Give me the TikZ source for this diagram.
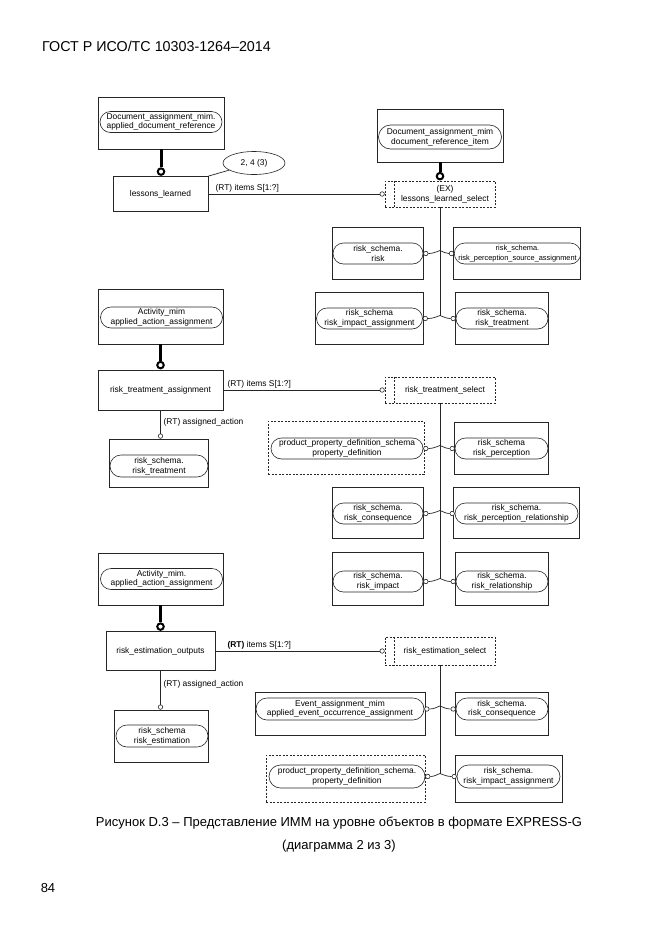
\documentclass[tikz,border=0pt]{standalone}
\usepackage{fontspec}
\setmainfont{Liberation Sans}
\usetikzlibrary{shapes.misc,shapes.geometric}

\begin{document}
\begin{tikzpicture}[x=1pt, y=-1pt]
    \tikzstyle{every node}=[align=center, inner sep=0pt, font=\fontsize{8.4}{9.6}\selectfont]
    \tikzstyle{entity}=[draw=black!85, line width=0.8pt]
    \tikzstyle{entitydash}=[draw=black!85, line width=0.7pt, dash pattern=on 2pt off 1.5pt]
    \tikzstyle{mimref}=[draw=black!85, rounded rectangle, line width=0.6pt, minimum height=21pt]
    \tikzstyle{ring}=[draw=black!85, circle, fill=white, line width=0.6pt, minimum size=4.5pt]
    \tikzstyle{bigring}=[draw=black, circle, fill=white, line width=2pt, minimum size=6.5pt]
    \tikzstyle{heavy}=[line width=3pt]
    \tikzstyle{link}=[draw=black!85, line width=0.7pt]

    \fill[white] (0,0) rectangle (661,935);
    \path[use as bounding box] (0,0) rectangle (661,935);

    % page header, caption, page number
    \node[anchor=west, font=\fontsize{14.3}{16}\selectfont] (head) at (42,46) {ГОСТ Р ИСО/ТС 10303-1264–2014};
    \node[font=\fontsize{13}{15}\selectfont] (cap1) at (339,823) {Рисунок D.3 – Представление ИММ на уровне объектов в формате EXPRESS-G};
    \node[font=\fontsize{13}{15}\selectfont] (cap2) at (339,846) {(диаграмма 2 из 3)};
    \node[font=\fontsize{13}{15}\selectfont] (pageno) at (48,888) {84};

    % lessons_learned
    \node[entity, minimum width=126pt, minimum height=52pt] (docref) at (161,123) {};
    \node[mimref, minimum width=122pt] (docref-m) at (161,122) {Document\_assignment\_mim.\\applied\_document\_reference};
    \node[entity, minimum width=95pt, minimum height=35pt] (ll) at (160.5,194) {lessons\_learned};
    \node[draw=black!85, ellipse, line width=0.6pt, minimum width=62pt, minimum height=23pt] (note) at (254,163) {2, 4 (3)};
    \node[entity, minimum width=126pt, minimum height=53pt] (docitem) at (440,135.5) {};
    \node[mimref, minimum width=123pt, minimum height=24pt] (docitem-m) at (440,137) {Document\_assignment\_mim\\document\_reference\_item};
    \node[entitydash, minimum width=110pt, minimum height=26pt] (llsel) at (440,194) {};
    \node (llsel-txt) at ([xshift=5pt]llsel.center) {(EX)\\lessons\_learned\_select};
    \node[entity, minimum width=91pt, minimum height=52pt] (risk) at (377.5,253) {};
    \node[mimref, minimum width=90pt] (risk-m) at (378,253.5) {risk\_schema.\\risk};
    \node[entity, minimum width=127pt, minimum height=52pt] (rpsa) at (516.5,253) {};
    \node[mimref, minimum width=124pt, font=\fontsize{7.4}{9.6}\selectfont] (rpsa-m) at (517.5,253.5) {risk\_schema.\\risk\_perception\_source\_assignment};
    \node[entity, minimum width=108pt, minimum height=52pt] (ria) at (369,318) {};
    \node[mimref, minimum width=106pt] (ria-m) at (369.5,318.5) {risk\_schema\\risk\_impact\_assignment};
    \node[entity, minimum width=93pt, minimum height=52pt] (rt) at (501.5,318) {};
    \node[mimref, minimum width=92pt] (rt-m) at (502,318.5) {risk\_schema.\\risk\_treatment};

    % risk_treatment_assignment
    \node[entity, minimum width=125pt, minimum height=55pt] (aaa1) at (160.5,316.5) {};
    \node[mimref, minimum width=122pt] (aaa1-m) at (161.5,317.5) {Activity\_mim\\applied\_action\_assignment};
    \node[entity, minimum width=125pt, minimum height=40pt] (rta) at (160.5,390) {risk\_treatment\_assignment};
    \node[entitydash, minimum width=110pt, minimum height=26pt] (rtsel) at (440,390) {};
    \node (rtsel-txt) at ([xshift=5pt]rtsel.center) {risk\_treatment\_select};
    \node[entity, minimum width=99pt, minimum height=48pt] (rtr) at (158.5,463) {};
    \node[mimref, minimum width=98pt, minimum height=22pt] (rtr-m) at (159,466) {risk\_schema.\\risk\_treatment};
    \node[entitydash, minimum width=156pt, minimum height=53pt] (ppd1) at (346,447.5) {};
    \node[mimref, minimum width=152pt] (ppd1-m) at (347,448.5) {product\_property\_definition\_schema\\property\_definition};
    \node[entity, minimum width=94pt, minimum height=52pt] (rp) at (501,448) {};
    \node[mimref, minimum width=93pt] (rp-m) at (501.5,448.5) {risk\_schema\\risk\_perception};
    \node[entity, minimum width=91pt, minimum height=51pt] (rc1) at (377.5,512.5) {};
    \node[mimref, minimum width=90pt] (rc1-m) at (378,513.5) {risk\_schema.\\risk\_consequence};
    \node[entity, minimum width=126pt, minimum height=51pt] (rpr) at (516,512.5) {};
    \node[mimref, minimum width=123pt] (rpr-m) at (516.5,513.5) {risk\_schema.\\risk\_perception\_relationship};
    \node[entity, minimum width=91pt, minimum height=53pt] (ri) at (377.5,578.5) {};
    \node[mimref, minimum width=90pt] (ri-m) at (378,581.5) {risk\_schema.\\risk\_impact};
    \node[entity, minimum width=93pt, minimum height=53pt] (rr) at (501.5,578.5) {};
    \node[mimref, minimum width=92pt] (rr-m) at (502,581.5) {risk\_schema.\\risk\_relationship};

    % risk_estimation_outputs
    \node[entity, minimum width=125pt, minimum height=52pt] (aaa2) at (160.5,579) {};
    \node[mimref, minimum width=122pt] (aaa2-m) at (161.5,579) {Activity\_mim.\\applied\_action\_assignment};
    \node[entity, minimum width=109pt, minimum height=39pt] (reo) at (160.5,651) {risk\_estimation\_outputs};
    \node[entitydash, minimum width=110pt, minimum height=28pt] (resel) at (440,651) {};
    \node (resel-txt) at ([xshift=5pt]resel.center) {risk\_estimation\_select};
    \node[entity, minimum width=94pt, minimum height=52pt] (rest) at (161,736) {};
    \node[mimref, minimum width=92pt, minimum height=22pt] (rest-m) at (162,736) {risk\_schema\\risk\_estimation};
    \node[entity, minimum width=170pt, minimum height=43pt] (eoa) at (340,713.5) {};
    \node[mimref, minimum width=168pt, minimum height=22pt] (eoa-m) at (340,709) {Event\_assignment\_mim\\applied\_event\_occurrence\_assignment};
    \node[entity, minimum width=93pt, minimum height=43pt] (rc2) at (501.5,713.5) {};
    \node[mimref, minimum width=92pt, minimum height=22pt] (rc2-m) at (502,709) {risk\_schema.\\risk\_consequence};
    \node[entitydash, minimum width=159pt, minimum height=47pt] (ppd2) at (345.5,778.5) {};
    \node[mimref, minimum width=156pt, minimum height=23pt] (ppd2-m) at (347,776.5) {product\_property\_definition\_schema.\\property\_definition};
    \node[entity, minimum width=107pt, minimum height=47pt] (ria2) at (508.5,778.5) {};
    \node[mimref, minimum width=103pt, minimum height=23pt] (ria2-m) at (508.5,776.5) {risk\_schema.\\risk\_impact\_assignment};

    % inner line of the select boxes
    \foreach \s in {llsel, rtsel, resel}
        \draw[entitydash] ([xshift=10pt]\s.north west) -- ([xshift=10pt]\s.south west);

    % thick supertype links
    \path (docref.south |- ll.north) ++(0,4.5pt) node[bigring] (ll-o) {};
    \draw[heavy] (docref.south) -- (ll-o.north);
    \path (docitem.south |- llsel.north) ++(0,4.5pt) node[bigring] (llsel-b) {};
    \draw[heavy] (docitem.south) -- (llsel-b.north);
    \path (aaa1.south |- rta.north) ++(0,4.5pt) node[bigring] (rta-o) {};
    \draw[heavy] (aaa1.south) -- (rta-o.north);
    \path (aaa2.south |- reo.north) ++(0,4.5pt) node[bigring] (reo-o) {};
    \draw[heavy] (aaa2.south) -- (reo-o.north);

    % attributes
    \draw[link] (note) -- (ll.north east);
    \node[ring] (llsel-o) at ([xshift=-2.5pt]llsel.west) {};
    \draw[link] (ll.east) -- (llsel-o.west);
    \node[anchor=south west] (ll-lbl) at ([xshift=7pt,yshift=2pt]ll.east) {(RT) items S[1:?]};
    \node[ring] (rtsel-o) at ([xshift=-2.5pt]rtsel.west) {};
    \draw[link] (rta.east) -- (rtsel-o.west);
    \node[anchor=south west] (rta-lbl) at ([xshift=4pt,yshift=2pt]rta.east) {(RT) items S[1:?]};
    \path (rta.south |- rtr.north) ++(0,2.5pt) node[ring] (rtr-o) {};
    \draw[link] (rta.south) -- (rtr-o.north);
    \node[anchor=west] (rtr-lbl) at ([xshift=3pt,yshift=-12pt]rta.south) {(RT) assigned\_action};
    \node[ring] (resel-o) at ([xshift=-2.5pt]resel.west) {};
    \draw[link] (reo.east) -- (resel-o.west);
    \node[anchor=south west] (reo-lbl) at ([xshift=12pt,yshift=2pt]reo.east) {\textbf{(RT)} items S[1:?]};
    \path (reo.south |- rest.north) ++(0,2.5pt) node[ring] (rest-o) {};
    \draw[link] (reo.south) -- (rest-o.north);
    \node[anchor=west] (rest-lbl) at ([xshift=3pt,yshift=-13.5pt]reo.south) {(RT) assigned\_action};

    % select branches
    \foreach \l/\r/\s in {risk/rpsa/llsel, ria/rt/llsel, ppd1/rp/rtsel, rc1/rpr/rtsel, ri/rr/rtsel, eoa/rc2/resel, ppd2/ria2/resel}{
        \node[ring] (\l-o) at ([xshift=2.5pt]\l-m.east) {};
        \node[ring] (\r-o) at ([xshift=-2.5pt]\r-m.west) {};
        \path (\l-o -| \s.south) ++(0,3pt) coordinate (\l-h);
        \draw[link] (\l-o.east) to[out=0,in=200] (\l-h) to[out=-20,in=180] (\r-o.west);
    }
    \draw[link] (llsel.south) -- (ria-h);
    \draw[link] (rtsel.south) -- (ri-h);
    \draw[link] (resel.south) -- (ppd2-h);
\end{tikzpicture}
\end{document}
